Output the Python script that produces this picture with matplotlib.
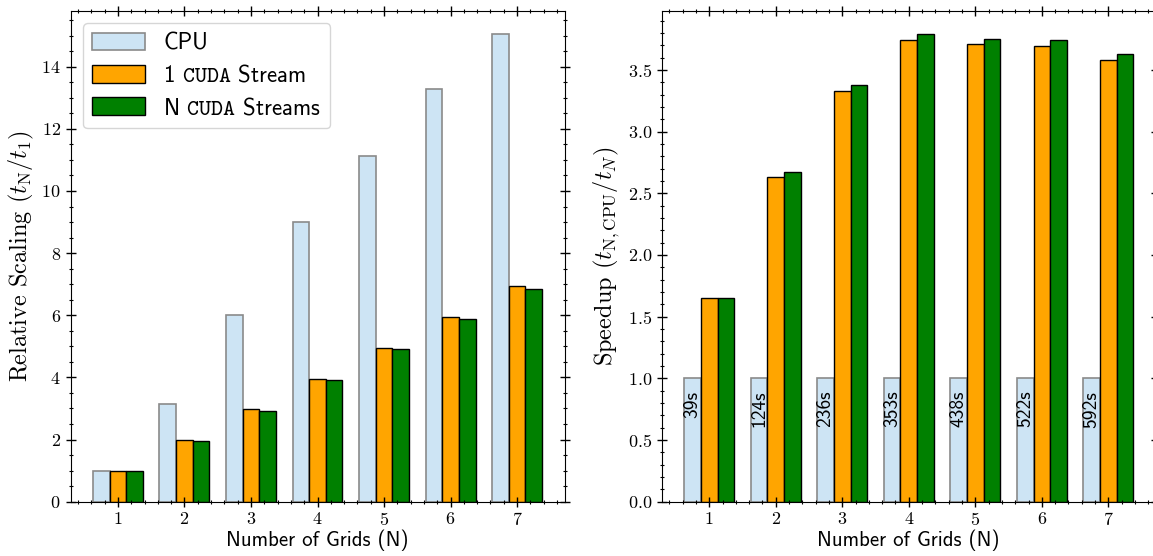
import numpy as np
import matplotlib
matplotlib.use('Agg')
import matplotlib.pyplot as plt
from matplotlib.ticker import MultipleLocator

plt.rcParams['mathtext.fontset'] = 'cm'
plt.rcParams['font.family'] = 'cmr10'
plt.rcParams['axes.formatter.use_mathtext'] = True

# 数据
grids = [1, 2, 3, 4, 5, 6, 7]
cpu_scaling = [1.0, 3.15, 6.0, 9.0, 11.12, 13.28, 15.05]
cuda1_scaling = [1.0, 1.98, 2.97, 3.96, 4.95, 5.94, 6.94]
cudaN_scaling = [1.0, 1.95, 2.92, 3.92, 4.90, 5.87, 6.85]

cpu_speedup = [1.0, 1.0, 1.0, 1.0, 1.0, 1.0, 1.0]
cuda1_speedup = [1.65, 2.63, 3.33, 3.74, 3.71, 3.69, 3.58]
cudaN_speedup = [1.65, 2.67, 3.38, 3.79, 3.75, 3.74, 3.63]
cpu_times = ['39s', '124s', '236s', '353s', '438s', '522s', '592s']

cpu_color = '#cde4f4'
cuda1_color = '#ffa500'
cudaN_color = '#008000'
w = 0.25
sans = 'cmss10'

fig = plt.figure(figsize=(11.53, 5.56), dpi=100)
ax1 = fig.add_axes([70.5 / 1153, 1 - 501.7 / 556, 494 / 1153, 491 / 556])
ax2 = fig.add_axes([661.8 / 1153, 1 - 501.7 / 556, 494 / 1153, 491 / 556])

x = np.array(grids)


def draw(ax, cpu, c1, cn):
    ax.bar(x - w, cpu, w, color=cpu_color, edgecolor='#8a8a8a', linewidth=1.2, label='CPU')
    ax.bar(x, c1, w, color=cuda1_color, edgecolor='black', linewidth=1.0,
           label=r'1 $\mathtt{CUDA}$ Stream')
    ax.bar(x + w, cn, w, color=cudaN_color, edgecolor='black', linewidth=1.0,
           label=r'N $\mathtt{CUDA}$ Streams')
    ax.set_xticks(grids)
    ax.xaxis.set_minor_locator(MultipleLocator(0.2))
    ax.tick_params(which='both', direction='inout', top=True, right=True,
                   labelsize=13)
    ax.tick_params(which='major', length=7, width=1)
    ax.tick_params(which='minor', length=3.5, width=0.8)
    ax.set_xlabel('Number of Grids (N)', family=sans, fontsize=15, labelpad=1)


draw(ax1, cpu_scaling, cuda1_scaling, cudaN_scaling)
ax1.yaxis.set_major_locator(MultipleLocator(2))
ax1.yaxis.set_minor_locator(MultipleLocator(0.5))
ax1.set_ylabel(r'Relative Scaling $(t_\mathrm{N}/t_1)$', fontsize=17.5)
leg = ax1.legend(loc='upper left', prop={'family': sans, 'size': 16.5},
                 handlelength=2.3, handleheight=0.8, borderaxespad=0.55,
                 labelspacing=0.45)

draw(ax2, cpu_speedup, cuda1_speedup, cudaN_speedup)
ax2.yaxis.set_major_locator(MultipleLocator(0.5))
ax2.yaxis.set_minor_locator(MultipleLocator(0.1))
ax2.set_ylabel(r'Speedup $(t_{\mathrm{N,CPU}}/t_N)$', fontsize=17.5)
for xi, lab in zip(x, cpu_times):
    ax2.text(xi - w, 0.9, lab, rotation=90, ha='center', va='top',
             family=sans, fontsize=14)

fig.savefig('out.png', dpi=100)
